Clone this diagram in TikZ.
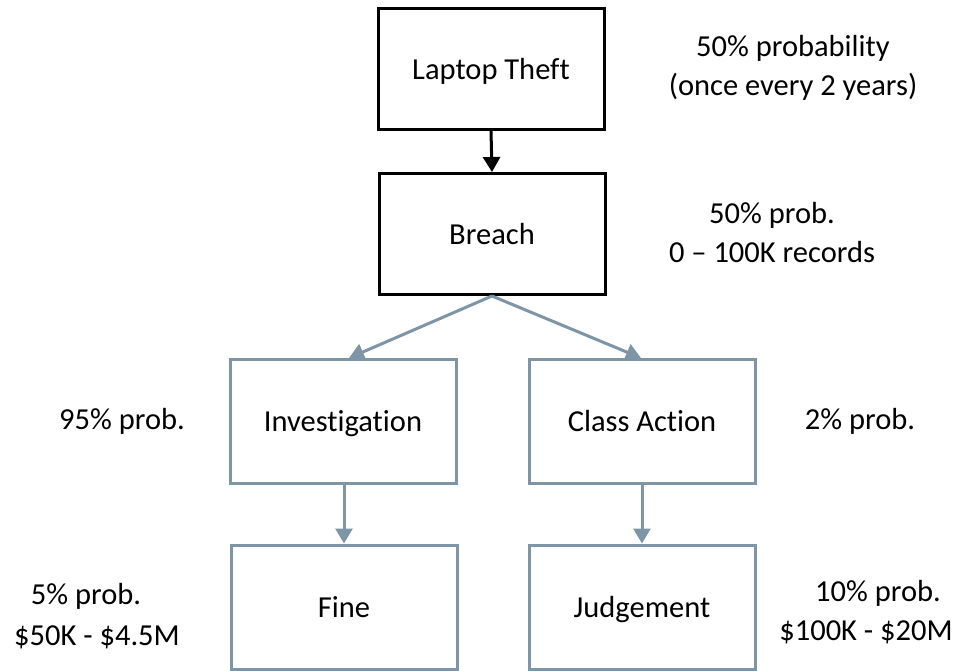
\documentclass[tikz,border=0pt]{standalone}
\usepackage{fontspec}
\setmainfont{Carlito}[Ligatures=NoCommon]
\usetikzlibrary{arrows.meta}
\definecolor{steel}{HTML}{7D95A4}
\tikzset{
  txt/.style={font=\fontsize{30.5}{39}\selectfont},
  blackbox/.style={txt, draw=black, line width=3pt, minimum width=226pt, minimum height=121pt, text height=24pt, text depth=4pt},
  greybox/.style={txt, draw=steel, line width=3pt, minimum width=226pt, minimum height=124pt, text height=24pt, text depth=4pt},
  note/.style={txt, align=center, inner sep=0pt},
  blackarrow/.style={draw=black, line width=3pt, -{Triangle[width=17pt,length=15pt]}},
  greyarrow/.style={draw=steel, line width=3pt, -{Triangle[width=17pt,length=15pt]}},
}
\begin{document}
\begin{tikzpicture}[x=1pt,y=-1pt]
\useasboundingbox (0,0) rectangle (961,670);

% boxes
\node[blackbox] (theft) at (491,69) {Laptop Theft};
\node[blackbox] (breach) at (492,234) {Breach};
\node[greybox] (invest) at (343,421) {Investigation};
\node[greybox] (class) at (642,421) {Class Action};
\node[greybox] (fine) at (344,607) {Fine};
\node[greybox] (judge) at (642,607) {Judgement};

% connectors
\coordinate (split) at (breach.south);
\coordinate (investtop) at (349,358);
\coordinate (classtop) at (641,358);
\draw[blackarrow] (theft.south) -- (breach.north);
\draw[greyarrow] (split) -- (investtop);
\draw[greyarrow] (split) -- (classtop);
\draw[greyarrow] (invest.south -| fine.north) -- (fine.north);
\draw[greyarrow] (class.south) -- (class.south |- judge.north);

% annotations
\node[note] (n1) at (793,68) {50\% probability\\(once every 2 years)};
\node[note] (n2) at (772,233) {50\% prob.\\0 – 100K records};
\node[note] (n3) at (122,421) {95\% prob.};
\node[note] (n4) at (860,421) {2\% prob.};
\node[note] (n5a) at (86,596) {5\% prob.};
\node[note] (n5b) at (97,637) {\$50K - \$4.5M};
\node[note] (n6a) at (878,593) {10\% prob.};
\node[note] (n6b) at (866,632) {\$100K - \$20M};
\end{tikzpicture}
\end{document}
